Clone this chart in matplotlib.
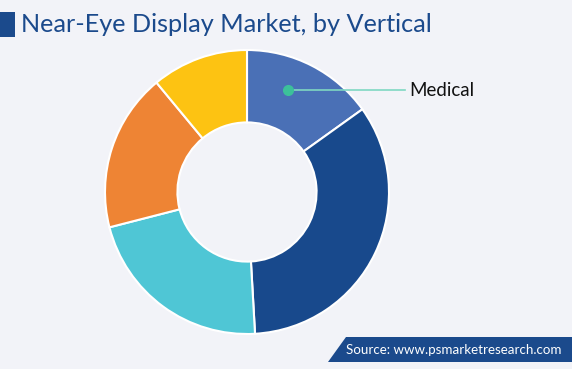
import matplotlib
matplotlib.use("Agg")
import matplotlib.pyplot as plt
from matplotlib.patches import Polygon, Rectangle

categories = ["Medical", "Industrial", "Enterprise", "Consumer", "Military"]
shares = [15.1, 34.0, 21.9, 18.0, 11.0]
colors = ["#4A70B6", "#18498C", "#4FC6D5", "#EE8434", "#FDC312"]
shown_label = "Medical"
title = "Near-Eye Display Market, by Vertical"
source = "Source: www.psmarketresearch.com"

W, H = 572, 369
bg = "#F2F3F8"
fig = plt.figure(figsize=(W / 100, H / 100), dpi=100, facecolor=bg)

# donut axes: center (247,192), radius 142
cx, cy, r = 247, 192, 142
ax = fig.add_axes([(cx - r) / W, 1 - (cy + r) / H, 2 * r / W, 2 * r / H])
ax.set_facecolor("none")
wedges, _ = ax.pie(shares, colors=colors, startangle=90, counterclock=False,
                   radius=1.0, wedgeprops=dict(width=0.51, edgecolor="white", linewidth=1.5))
ax.set_xlim(-1, 1)
ax.set_ylim(-1, 1)
ax.set_aspect("equal")
ax.axis("off")

# overlay axes in pixel coords (on top)
ov = fig.add_axes([0, 0, 1, 1], facecolor="none")
ov.set_xlim(0, W)
ov.set_ylim(H, 0)
ov.axis("off")

# title
ov.add_patch(Rectangle((0, 12), 15, 25, color="#1B4A8C", lw=0))
ov.text(21, 25, title, fontsize=18.2, color="#1B4A8C", va="center", ha="left",
        family="Lato")

# Medical annotation
ov.plot([288, 405], [90, 90], color="#7FD8C2", lw=1.2, zorder=5)
ov.plot([288], [90], "o", color="#3CC19A", ms=7, zorder=6)
ov.text(409, 90, shown_label, fontsize=13.5, color="#111111", va="center", ha="left",
        family="Lato")

# source box
ov.add_patch(Polygon([[328, 362], [346, 337], [572, 337], [572, 362]],
                     closed=True, color="#1B4A8C", lw=0))
ov.text(454, 350, source, fontsize=9.6, color="white", va="center", ha="center",
        family="Lato")

fig.savefig("out.png", dpi=100, facecolor=bg)
